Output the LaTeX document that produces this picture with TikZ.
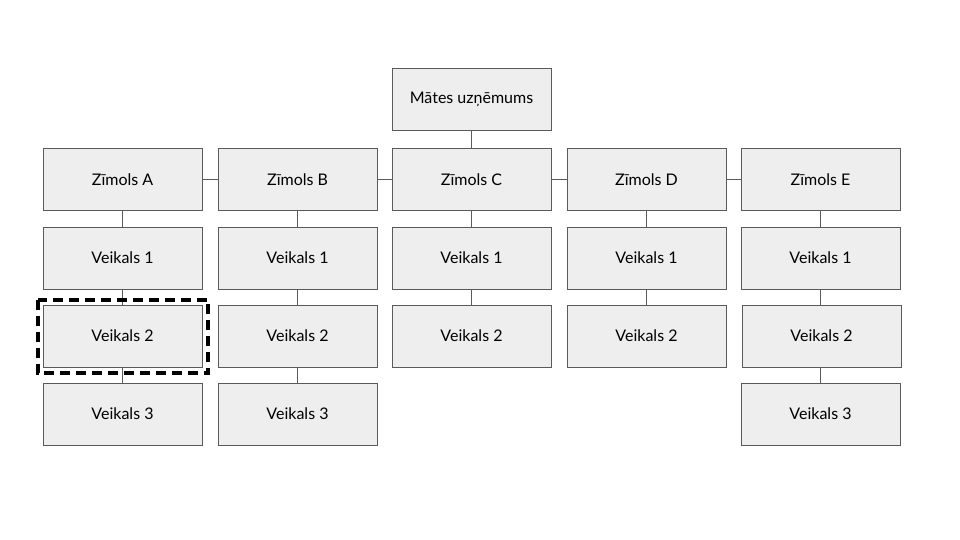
\documentclass[tikz,border=0pt]{standalone}
\usepackage{fontspec}
\setmainfont{Lato}
\usepackage{tikz}

\definecolor{boxfill}{HTML}{EEEEEE}
\definecolor{boxline}{HTML}{5A5A5A}

\begin{document}
\begin{tikzpicture}[x=1pt,y=-1pt,
	box/.style={draw=boxline, fill=boxfill, line width=0.9pt, minimum width=159pt, minimum height=62pt, inner sep=0pt, font=\fontsize{16}{19}\selectfont},
	link/.style={draw=boxline, line width=0.8pt}]

	\useasboundingbox (0,0) rectangle (960,540);

	% Parent
	\node[box] (mates) at (471.5,99) {Mātes uzņēmums};

	% Brands
	\node[box] (zA) at (122.5,179.5) {Zīmols A};
	\node[box] (zB) at (297.5,179.5) {Zīmols B};
	\node[box] (zC) at (471.5,179.5) {Zīmols C};
	\node[box] (zD) at (646.5,179.5) {Zīmols D};
	\node[box] (zE) at (820.5,179.5) {Zīmols E};

	% Shops
	\node[box] (a1) at (122.5,258) {Veikals 1};
	\node[box] (a2) at (122.5,336) {Veikals 2};
	\node[box] (a3) at (122.5,414) {Veikals 3};

	\node[box] (b1) at (297.5,258) {Veikals 1};
	\node[box] (b2) at (297.5,336) {Veikals 2};
	\node[box] (b3) at (297.5,414) {Veikals 3};

	\node[box] (c1) at (471.5,258) {Veikals 1};
	\node[box] (c2) at (471.5,336) {Veikals 2};

	\node[box] (d1) at (646.5,258) {Veikals 1};
	\node[box] (d2) at (646.5,336) {Veikals 2};

	\node[box] (e1) at (820.5,258) {Veikals 1};
	\node[box] (e2) at (821.5,336) {Veikals 2};
	\node[box] (e3) at (820.5,414) {Veikals 3};

	% Connectors
	\draw[link] (mates) -- (zC);
	\draw[link] (zA) -- (zB);
	\draw[link] (zB) -- (zC);
	\draw[link] (zC) -- (zD);
	\draw[link] (zD) -- (zE);

	\draw[link] (zA) -- (a1);
	\draw[link] (a1) -- (a2);
	\draw[link] (a2) -- (a3);
	\draw[link] (zB) -- (b1);
	\draw[link] (b1) -- (b2);
	\draw[link] (b2) -- (b3);
	\draw[link] (zC) -- (c1);
	\draw[link] (c1) -- (c2);
	\draw[link] (zD) -- (d1);
	\draw[link] (d1) -- (d2);
	\draw[link] (zE) -- (e1);
	\draw[link] (e1.south) -- (e1.south |- e2.north);
	\draw[link] (e2.south -| e3.north) -- (e3.north);

	% Highlight
	\draw[black, line width=4pt, dash pattern=on 10pt off 6pt] (a2.north west) ++(-5,-5) rectangle ([shift={(6,6)}]a2.south east);

\end{tikzpicture}
\end{document}
